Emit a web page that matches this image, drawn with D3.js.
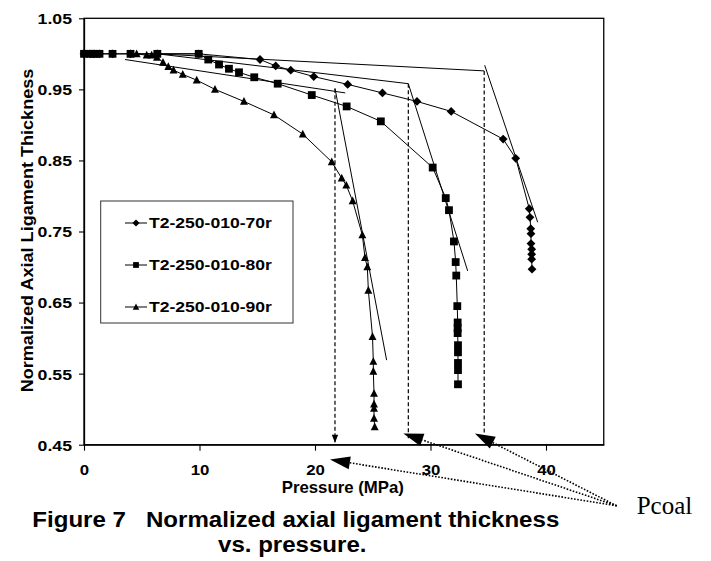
<!DOCTYPE html>
<html><head><meta charset="utf-8">
<script src="https://cdn.jsdelivr.net/npm/d3@7"></script>
<style>body{margin:0;background:#fff} svg{display:block}</style>
</head><body>
<svg id="c" width="711" height="561"></svg>
<script>
// ---------------- data ----------------
const seriesNames = ["T2-250-010-70r", "T2-250-010-80r", "T2-250-010-90r"];

const pressure70 = [0, 0.52, 0.91, 1.34, 2.47, 4.03, 6.35, 9.93, 15.24, 16.60, 17.90, 19.89, 22.83, 25.84, 28.83, 31.79, 36.29, 37.38, 38.55, 38.61, 38.68, 38.70, 38.70, 38.76, 38.76, 38.76, 38.79];
const thick70    = [1, 1, 1, 1, 1, 1, 1, 1, 0.992, 0.983, 0.977, 0.968, 0.957, 0.945, 0.933, 0.919, 0.880, 0.853, 0.782, 0.770, 0.754, 0.747, 0.733, 0.725, 0.718, 0.711, 0.697];

const pressure80 = [0, 0.52, 0.91, 1.34, 2.47, 4.03, 6.35, 9.93, 10.76, 11.69, 12.55, 13.42, 14.74, 16.77, 19.72, 22.74, 25.70, 30.19, 31.32, 31.60, 32.03, 32.18, 32.23, 32.32, 32.35, 32.35, 32.35, 32.38, 32.38, 32.38, 32.38, 32.38];
const thick80    = [1, 1, 1, 1, 1, 1, 1, 1, 0.992, 0.985, 0.979, 0.974, 0.967, 0.958, 0.942, 0.926, 0.905, 0.840, 0.797, 0.780, 0.736, 0.707, 0.688, 0.645, 0.622, 0.614, 0.607, 0.590, 0.580, 0.565, 0.555, 0.535];

const pressure90 = [4.56, 5.43, 5.86, 6.32, 6.84, 7.30, 7.75, 8.55, 9.76, 11.34, 13.85, 16.45, 18.94, 21.45, 22.31, 22.71, 23.26, 24.10, 24.33, 24.53, 24.62, 24.98, 25.05, 25.05, 25.11, 25.11, 25.11, 25.11, 25.17];
const thick90    = [1.0, 0.998, 0.998, 0.995, 0.988, 0.982, 0.977, 0.971, 0.963, 0.950, 0.933, 0.914, 0.887, 0.848, 0.825, 0.815, 0.793, 0.745, 0.713, 0.700, 0.667, 0.602, 0.567, 0.553, 0.522, 0.507, 0.501, 0.487, 0.475];

const xTicks = [0, 10, 20, 30, 40];
const yTicks = [0.45, 0.55, 0.65, 0.75, 0.85, 0.95, 1.05];

// tangent (fitted) lines: [x1, y1, x2, y2]
const tangentLines = [
  [6.30, 1.000, 34.65, 0.976], [34.69, 0.984, 39.28, 0.763],
  [6.35, 1.000, 28.08, 0.958], [28.08, 0.958, 33.22, 0.6945],
  [3.55, 0.992, 22.62, 0.945], [21.73, 0.9515, 26.20, 0.569]
];
// dashed vertical drop lines: [x, yTop, yBottom]
const dropLines = [[21.73, 0.951, 0.4535], [28.08, 0.958, 0.459], [34.65, 0.976, 0.459]];
// Pcoal pointer: origin and arrow tips (data units)
const pcoalOrigin = [46.12, 0.364];
const pcoalTips = [[21.3, 0.429], [27.65, 0.4657], [33.85, 0.4657]];

const xLabel = "Pressure (MPa)";
const yLabel = "Normalized Axial Ligament Thickness";
const caption1 = "Figure 7   Normalized axial ligament thickness";
const caption2 = "vs. pressure.";
const pcoalLabel = "Pcoal";

// ---------------- drawing ----------------
const svg = d3.select("#c");
const FONT = '"Liberation Sans", Arial, Helvetica, sans-serif';
const x = d3.scaleLinear().domain([0, 45]).range([84, 603.75]);
const y = d3.scaleLinear().domain([0.45, 1.05]).range([444.7, 18.3]);

function txt(px, py, s, size, sx, anchor, opt = {}) {
  const g = svg.append("g").attr("transform", `translate(${px},${py}) ${opt.rotate ? "rotate(" + opt.rotate + ")" : ""} scale(${sx},1)`);
  return g.append("text").text(s)
    .attr("text-anchor", anchor)
    .attr("font-family", opt.family || FONT)
    .attr("font-weight", opt.weight || "bold")
    .attr("font-size", size)
    .attr("fill", "#000")
    .style("white-space", "pre");
}

// plot frame
svg.append("rect")
  .attr("x", x(0)).attr("y", y(1.05))
  .attr("width", x(45) - x(0)).attr("height", y(0.45) - y(1.05))
  .attr("fill", "none").attr("stroke", "#000").attr("stroke-width", 1.3);

// y axis
const ya = svg.append("g").attr("transform", `translate(${x(0)},0)`)
  .call(d3.axisLeft(y).tickValues(yTicks).tickFormat(d3.format(".2f")).tickSize(5).tickSizeOuter(0));
ya.select(".domain").attr("stroke-width", 1.3);
ya.selectAll(".tick line").attr("stroke-width", 1.1);
ya.selectAll("text")
  .attr("font-family", FONT).attr("font-weight", "bold").attr("font-size", 15).attr("fill", "#000")
  .attr("x", -12 / 1.18).attr("dy", "0.36em").attr("transform", "scale(1.18,1)");

// x axis
const xa = svg.append("g").attr("transform", `translate(0,${y(0.45)})`)
  .call(d3.axisBottom(x).tickValues(xTicks).tickFormat(d3.format("d")).tickSize(6).tickSizeOuter(0));
xa.select(".domain").attr("stroke-width", 1.3);
xa.selectAll(".tick line").attr("stroke-width", 1.1);
xa.selectAll("text")
  .attr("font-family", FONT).attr("font-weight", "bold").attr("font-size", 15).attr("fill", "#000")
  .attr("y", 30.5).attr("dy", 0).attr("transform", "scale(1.12,1)");

// axis titles
txt(342.8, 492.5, xLabel, 16, 1.05, "middle");
txt(33, 230.5, yLabel, 16, 1.13, "middle", { rotate: -90 });

// tangent lines
svg.append("g").selectAll("line").data(tangentLines).join("line")
  .attr("x1", d => x(d[0])).attr("y1", d => y(d[1]))
  .attr("x2", d => x(d[2])).attr("y2", d => y(d[3]))
  .attr("stroke", "#000").attr("stroke-width", 1);

// markers
const markerPath = {
  diamond: r => `M0,${-r}L${r},0L0,${r}L${-r},0Z`,
  square: r => `M${-r},${-r}H${r}V${r}H${-r}Z`,
  triangle: r => `M0,${-r}L${r * 0.9},${r * 0.75}L${-r * 0.9},${r * 0.75}Z`
};
const series = [
  { name: seriesNames[0], xs: pressure70, ys: thick70, m: "diamond", r: 4.4, lr: 3.6 },
  { name: seriesNames[1], xs: pressure80, ys: thick80, m: "square", r: 3.9, lr: 2.9 },
  { name: seriesNames[2], xs: pressure90, ys: thick90, m: "triangle", r: 4.4, lr: 3.6 }
];
const line = d3.line().x(d => x(d[0])).y(d => y(d[1]));
series.forEach(s => {
  const pts = s.xs.map((v, i) => [v, s.ys[i]]);
  svg.append("path").datum(pts).attr("d", line)
    .attr("fill", "none").attr("stroke", "#000").attr("stroke-width", 1);
  svg.append("g").selectAll("path").data(pts).join("path")
    .attr("transform", d => `translate(${x(d[0])},${y(d[1])})`)
    .attr("d", markerPath[s.m](s.r)).attr("fill", "#000");
});

// dashed drop lines
svg.append("g").selectAll("line").data(dropLines).join("line")
  .attr("x1", d => x(d[0])).attr("x2", d => x(d[0]))
  .attr("y1", d => y(d[1])).attr("y2", d => y(d[2]))
  .attr("stroke", "#000").attr("stroke-width", 1.2).attr("stroke-dasharray", "4,2.5");
// small arrowhead on first drop line
{
  const d = dropLines[0];
  const tx = x(d[0]), ty = y(d[2]) + 0.5;
  svg.append("path").attr("d", `M${tx},${ty}L${tx - 3.2},${ty - 8}L${tx + 3.2},${ty - 8}Z`).attr("fill", "#000");
}

// Pcoal pointers
const ox = x(pcoalOrigin[0]), oy = y(pcoalOrigin[1]);
pcoalTips.forEach(t => {
  const tx = x(t[0]), ty = y(t[1]);
  const dx = tx - ox, dy = ty - oy, L = Math.hypot(dx, dy);
  const ux = dx / L, uy = dy / L;
  const hl = 20, hw = 6.5;
  const bx = tx - ux * hl, by = ty - uy * hl;
  svg.append("line").attr("x1", ox).attr("y1", oy).attr("x2", bx).attr("y2", by)
    .attr("stroke", "#000").attr("stroke-width", 1.6).attr("stroke-dasharray", "1.6,1.6");
  svg.append("path")
    .attr("d", `M${tx},${ty}L${bx - uy * hw},${by + ux * hw}L${bx + uy * hw},${by - ux * hw}Z`)
    .attr("fill", "#000");
});

// legend
svg.append("rect").attr("x", 100.7).attr("y", 201).attr("width", 192.3).attr("height", 122)
  .attr("fill", "#fff").attr("stroke", "#333").attr("stroke-width", 1);
series.forEach((s, i) => {
  const cy = 223 + i * 42;
  svg.append("line").attr("x1", 125).attr("x2", 147).attr("y1", cy).attr("y2", cy)
    .attr("stroke", "#000").attr("stroke-width", 1);
  svg.append("path").attr("transform", `translate(136,${cy})`).attr("d", markerPath[s.m](s.lr)).attr("fill", "#000");
  txt(149, cy + 5.4, s.name, 15, 1.17, "start");
});

// caption and Pcoal label
txt(32.3, 526.7, caption1, 22, 1.095, "start");
txt(218, 552, caption2, 22, 1.095, "start");
txt(636.7, 514, pcoalLabel, 25, 1, "start", { family: '"Liberation Serif", "Times New Roman", serif', weight: "normal" });
</script>
</body></html>
